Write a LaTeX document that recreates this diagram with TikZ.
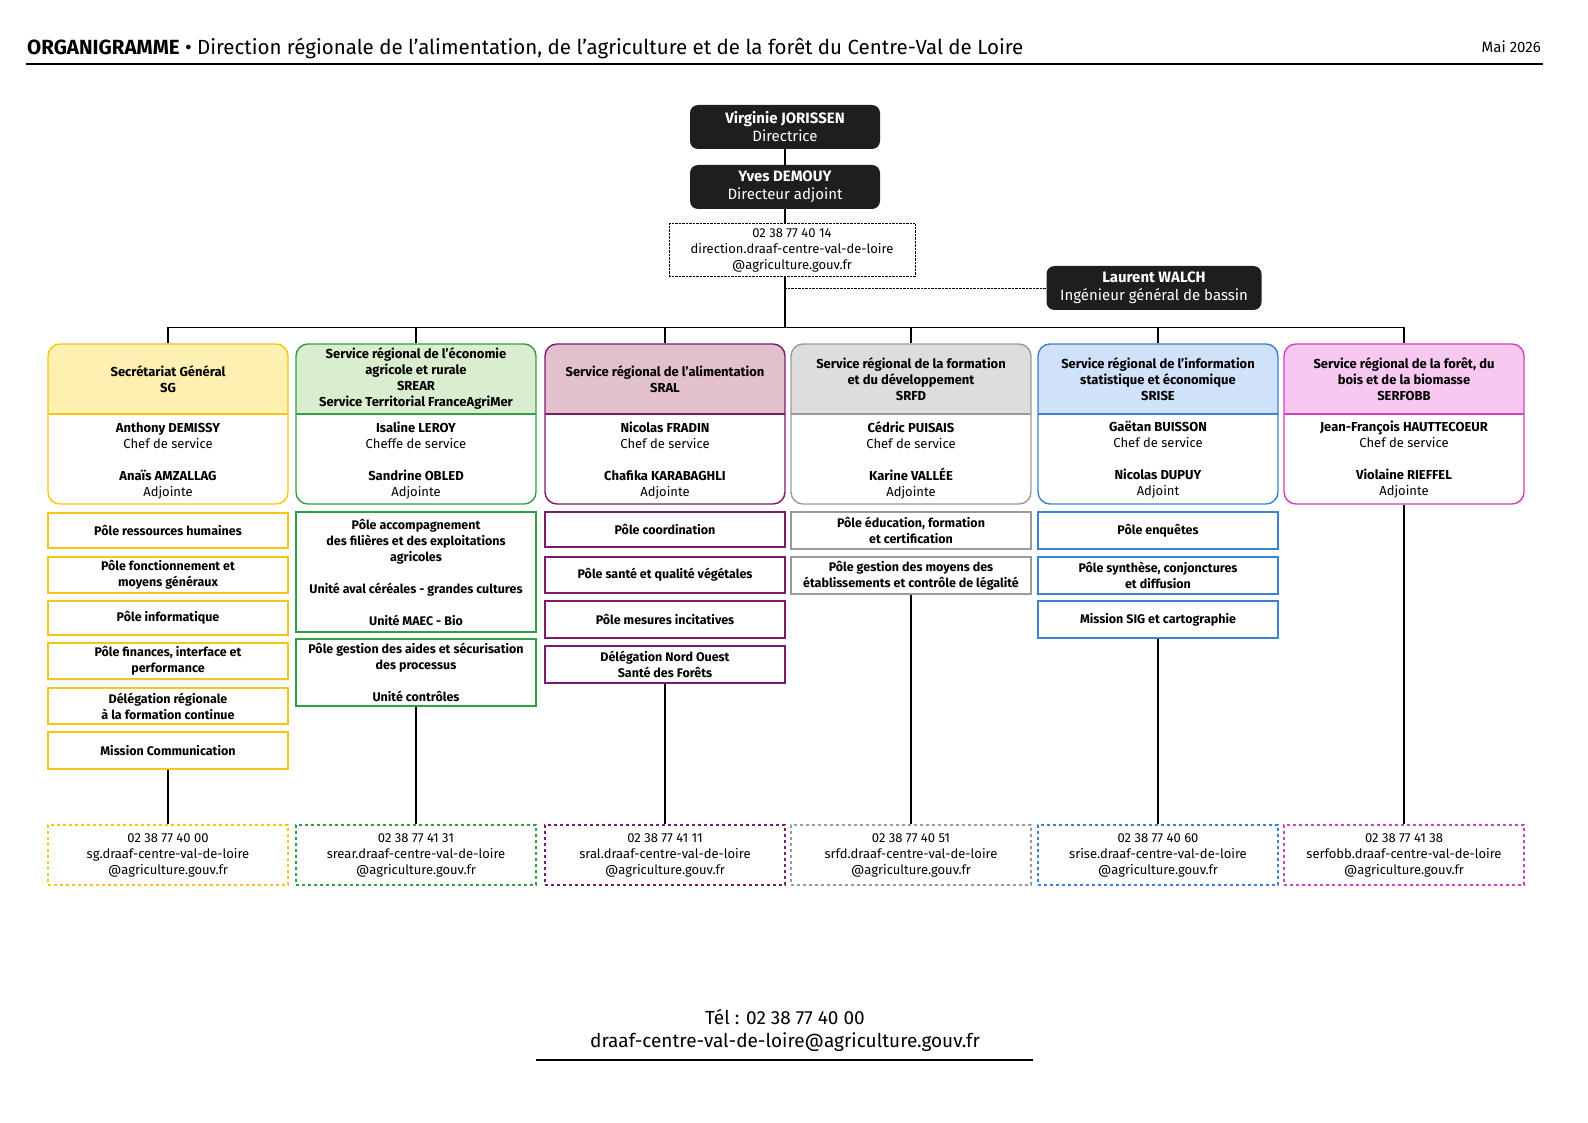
\documentclass[tikz,border=0pt]{standalone}
\usepackage{fontspec}
\setmainfont{Fira Sans}
\usetikzlibrary{positioning}
\definecolor{sgc}{HTML}{F5C518}\definecolor{sgf}{HTML}{FEF0B0}
\definecolor{src}{HTML}{2EA043}\definecolor{srf}{HTML}{D9EDCF}
\definecolor{alc}{HTML}{7B1B6B}\definecolor{alf}{HTML}{E2C0CC}
\definecolor{fdc}{HTML}{9A9A9A}\definecolor{fdf}{HTML}{DDDDDD}
\definecolor{isc}{HTML}{3B82D0}\definecolor{isf}{HTML}{CFE2FA}
\definecolor{foc}{HTML}{D040C0}\definecolor{fof}{HTML}{F8C8F0}
\definecolor{boss}{HTML}{1E1E1E}

\begin{document}
\begin{tikzpicture}[x=1pt,y=-1pt,
  every node/.style={inner sep=0pt, align=center, font=\fontsize{13}{16}\selectfont},
  chief/.style={fill=boss, rounded corners=8, text=white, minimum width=190, minimum height=44,
    font=\fontsize{15}{18}\selectfont},
  card/.style={draw=#1, line width=1.4, rounded corners=12, minimum width=240, minimum height=160},
  pole/.style={draw=#1, line width=1.4, minimum width=240, font=\bfseries\fontsize{12.5}{16}\selectfont},
  tel/.style={draw=#1, dashed, line width=1.3, minimum width=240, minimum height=60},
  link/.style={line width=1.3}]
\useasboundingbox (0,0) rectangle (1588,1123);
% title
\node[anchor=west, font=\fontsize{20.5}{24}\selectfont] (title) at (27,48)
  {\textbf{ORGANIGRAMME} • Direction régionale de l'alimentation, de l'agriculture et de la forêt du Centre-Val de Loire};
\node[anchor=east, font=\fontsize{15}{18}\selectfont] (date) at (1541,47) {Mai 2026};
\draw[line width=1.2] (26,64) -- (1543,64);

% direction
\node[chief] (dir) at (785,127) {\textbf{Virginie JORISSEN}\\Directrice};
\node[chief] (dep) at (785,187) {\textbf{Yves DEMOUY}\\Directeur adjoint};
\node[draw, densely dotted, minimum width=246, minimum height=53] (dircontact) at (792,250)
  {02 38 77 40 14\\direction.draaf-centre-val-de-loire\\@agriculture.gouv.fr};
\node[chief, minimum width=215] (walch) at (1154,288) {\textbf{Laurent WALCH}\\Ingénieur général de bassin};
\coordinate (tap) at (785,288);
\coordinate (bus) at (785,328);
\draw[link] (dir) -- (dep);
\draw[link] (dep.south) -- (785,224);
\draw[link] (785,277) -- (bus);
\draw[densely dotted] (tap) -- (walch.west);

% service cards: header fill, then frame
\foreach \cx/\fc/\bc in {168/sgf/sgc, 416/srf/src, 665/alf/alc, 911/fdf/fdc, 1158/isf/isc, 1404/fof/foc}{
  \fill[\fc] (\cx-120,414) [rounded corners=12] -- (\cx-120,344) -- (\cx+120,344) [sharp corners] -- (\cx+120,414) -- cycle;
  \draw[\bc, line width=1.4] (\cx-120,414) -- (\cx+120,414);
}
\node[card=sgc] (sg) at (168,424) {};
\node[card=src] (srear) at (416,424) {};
\node[card=alc] (sral) at (665,424) {};
\node[card=fdc] (srfd) at (911,424) {};
\node[card=isc] (srise) at (1158,424) {};
\node[card=foc] (serfobb) at (1404,424) {};

\node[font=\bfseries\fontsize{13}{16}\selectfont] (sgh) at (168,379) {Secrétariat Général\\SG};
\node[font=\bfseries\fontsize{13}{16}\selectfont] (srearh) at (416,379) {Service régional de l'économie\\agricole et rurale\\SREAR\\Service Territorial FranceAgriMer};
\node[font=\bfseries\fontsize{13}{16}\selectfont] (sralh) at (665,379) {Service régional de l’alimentation\\SRAL};
\node[font=\bfseries\fontsize{13}{16}\selectfont] (srfdh) at (911,379) {Service régional de la formation\\et du développement\\SRFD};
\node[font=\bfseries\fontsize{13}{16}\selectfont] (sriseh) at (1158,379) {Service régional de l’information\\statistique et économique\\SRISE};
\node[font=\bfseries\fontsize{13}{16}\selectfont] (serfobbh) at (1404,379) {Service régional de la forêt, du\\bois et de la biomasse\\SERFOBB};

\node (sgp) at (168,461) {\textbf{Anthony DEMISSY}\\Chef de service\\[16pt]\textbf{Anaïs AMZALLAG}\\Adjointe};
\node (srearp) at (416,461) {\textbf{Isaline LEROY}\\Cheffe de service\\[16pt]\textbf{Sandrine OBLED}\\Adjointe};
\node (sralp) at (665,461) {\textbf{Nicolas FRADIN}\\Chef de service\\[16pt]\textbf{Chafika KARABAGHLI}\\Adjointe};
\node (srfdp) at (911,460) {\textbf{Cédric PUISAIS}\\Chef de service\\[16pt]\textbf{Karine VALLÉE}\\Adjointe};
\node (srisep) at (1158,460) {\textbf{Gaëtan BUISSON}\\Chef de service\\[16pt]\textbf{Nicolas DUPUY}\\Adjoint};
\node (serfobbp) at (1404,460) {\textbf{Jean-François HAUTTECOEUR}\\Chef de service\\[16pt]\textbf{Violaine RIEFFEL}\\Adjointe};

% bus to services
\draw[link] (sg.north) -- ++(0,-16) -| (serfobb.north);
\foreach \s in {srear, sral, srfd, srise}
  \draw[link] (\s.north) -- ++(0,-16);

% poles SG
\node[pole=sgc, minimum height=35] (sg1) at (168,530.5) {Pôle ressources humaines};
\node[pole=sgc, minimum height=36] (sg2) at (168,575) {Pôle fonctionnement et\\moyens généraux};
\node[pole=sgc, minimum height=34] (sg3) at (168,618) {Pôle informatique};
\node[pole=sgc, minimum height=36] (sg4) at (168,661) {Pôle finances, interface et\\performance};
\node[pole=sgc, minimum height=36] (sg5) at (168,706) {Délégation régionale\\à la formation continue};
\node[pole=sgc, minimum height=37] (sg6) at (168,750.5) {Mission Communication};
% poles SREAR
\node[pole=src, minimum height=120] (srear1) at (416,572) {Pôle accompagnement\\des filières et des exploitations\\agricoles\\[16pt]Unité aval céréales - grandes cultures\\[16pt]Unité MAEC - Bio};
\node[pole=src, minimum height=67] (srear2) at (416,672.5) {Pôle gestion des aides et sécurisation\\des processus\\[16pt]Unité contrôles};
% poles SRAL
\node[pole=alc, minimum height=35] (sral1) at (665,529.5) {Pôle coordination};
\node[pole=alc, minimum height=36] (sral2) at (665,575) {Pôle santé et qualité végétales};
\node[pole=alc, minimum height=37] (sral3) at (665,619.5) {Pôle mesures incitatives};
\node[pole=alc, minimum height=37] (sral4) at (665,664.5) {Délégation Nord Ouest\\Santé des Forêts};
% poles SRFD
\node[pole=fdc, minimum height=37] (srfd1) at (911,530.5) {Pôle éducation, formation\\et certification};
\node[pole=fdc, minimum height=37] (srfd2) at (911,575.5) {Pôle gestion des moyens des\\établissements et contrôle de légalité};
% poles SRISE
\node[pole=isc, minimum height=37] (srise1) at (1158,530.5) {Pôle enquêtes};
\node[pole=isc, minimum height=37] (srise2) at (1158,575.5) {Pôle synthèse, conjonctures\\et diffusion};
\node[pole=isc, minimum height=37] (srise3) at (1158,619.5) {Mission SIG et cartographie};

% contacts
\node[tel=sgc] (sgtel) at (168,855) {02 38 77 40 00\\sg.draaf-centre-val-de-loire\\@agriculture.gouv.fr};
\node[tel=src] (sreartel) at (416,855) {02 38 77 41 31\\srear.draaf-centre-val-de-loire\\@agriculture.gouv.fr};
\node[tel=alc] (sraltel) at (665,855) {02 38 77 41 11\\sral.draaf-centre-val-de-loire\\@agriculture.gouv.fr};
\node[tel=fdc] (srfdtel) at (911,855) {02 38 77 40 51\\srfd.draaf-centre-val-de-loire\\@agriculture.gouv.fr};
\node[tel=isc] (srisetel) at (1158,855) {02 38 77 40 60\\srise.draaf-centre-val-de-loire\\@agriculture.gouv.fr};
\node[tel=foc] (serfobbtel) at (1404,855) {02 38 77 41 38\\serfobb.draaf-centre-val-de-loire\\@agriculture.gouv.fr};
\draw[link] (sg6.south) -- (sgtel.north);
\draw[link] (srear2.south) -- (sreartel.north);
\draw[link] (sral4.south) -- (sraltel.north);
\draw[link] (srfd2.south) -- (srfdtel.north);
\draw[link] (srise3.south) -- (srisetel.north);
\draw[link] (serfobb.south) -- (serfobbtel.north);

% footer
\node[font=\fontsize{19}{23}\selectfont] (footer) at (785,1030) {Tél : 02 38 77 40 00\\draaf-centre-val-de-loire@agriculture.gouv.fr};
\draw[line width=1.2] (536,1060) -- (1033,1060);
\end{tikzpicture}
\end{document}
